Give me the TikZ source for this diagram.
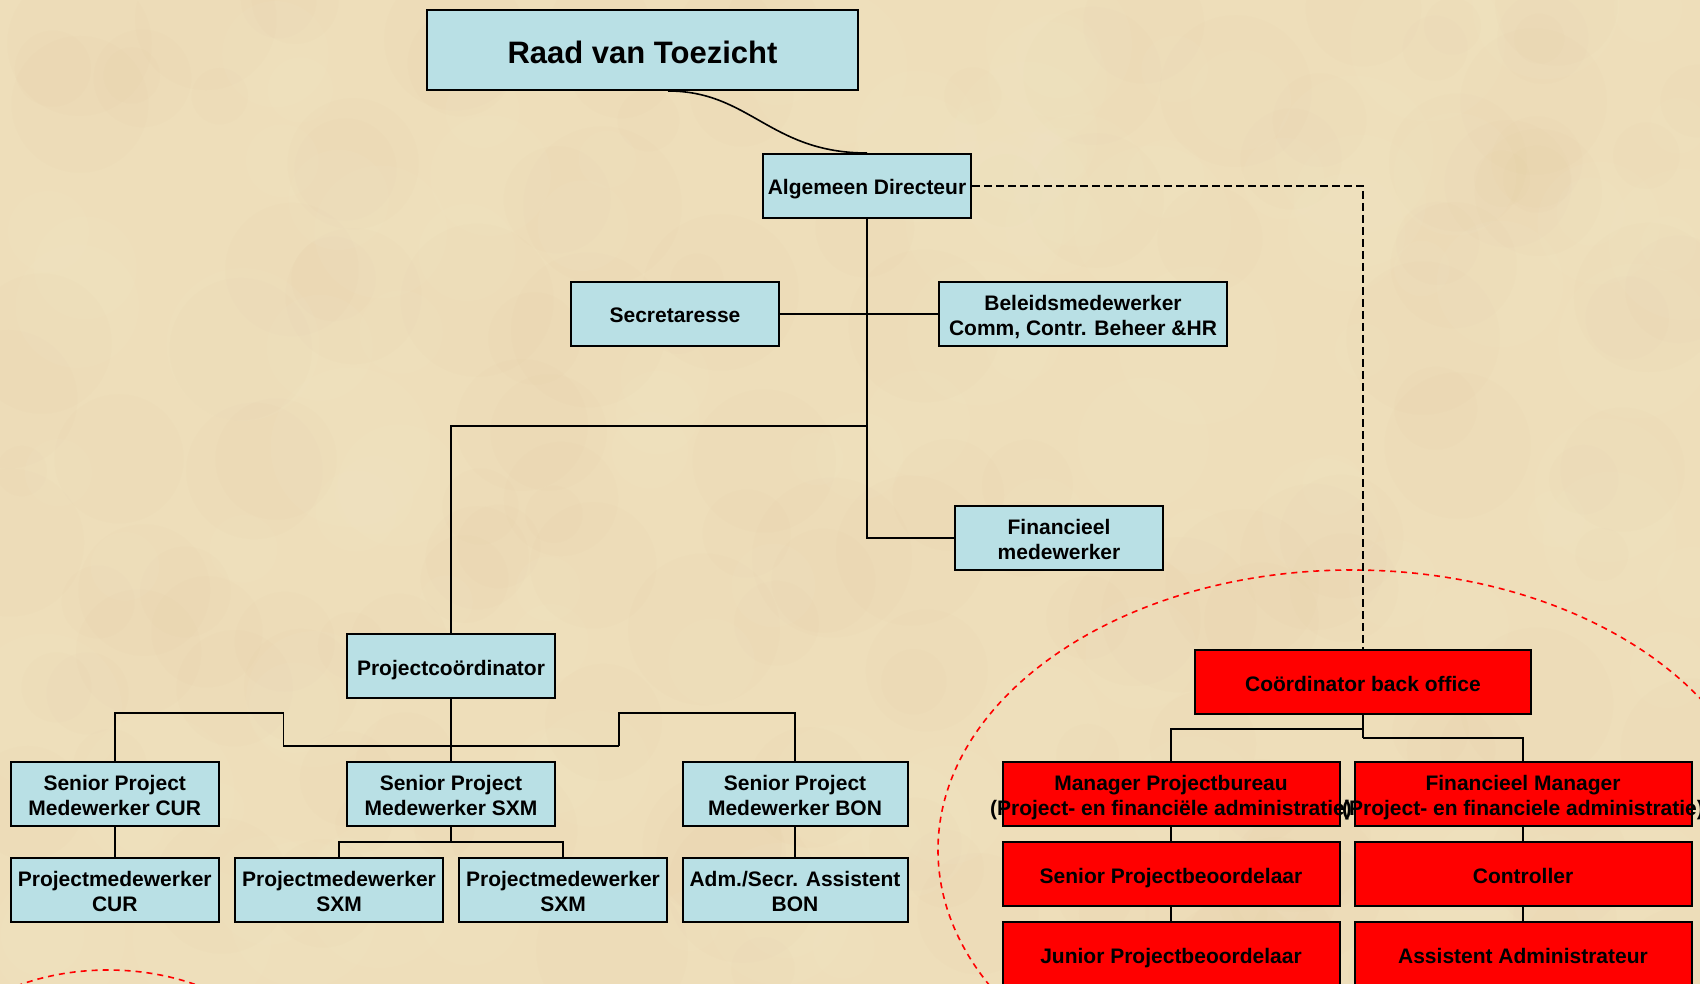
\documentclass[tikz,border=0pt]{standalone}
\usepackage{fontspec}
\setmainfont{Liberation Sans}
\definecolor{boxblue}{RGB}{185,224,229}
\definecolor{parch}{RGB}{238,222,186}
\definecolor{parchdark}{RGB}{214,188,140}
\definecolor{parchlight}{RGB}{248,238,212}
\begin{document}
\begin{tikzpicture}[x=1pt,y=-1pt,
  boxtext/.style={font=\bfseries\fontsize{21pt}{25pt}\selectfont, align=center},
  bluebox/.style={boxtext, draw=black, line width=2pt, fill=boxblue, inner sep=0pt, minimum height=64pt},
  redbox/.style={boxtext, draw=black, line width=2pt, fill=red, inner sep=0pt, minimum height=64pt, minimum width=337pt},
  oneline/.style={text height=18pt, text depth=0pt},
  twoline/.style={text height=43pt, text depth=0pt},
  conn/.style={line width=1.6pt, draw=black},
  dashconn/.style={line width=2pt, draw=black, dash pattern=on 8pt off 4pt},
  reddash/.style={line width=1.6pt, draw=red, dash pattern=on 6pt off 5pt}
]
\useasboundingbox (0,0) rectangle (1700,984);
\clip (0,0) rectangle (1700,984);
% parchment background
\fill[parch] (0,0) rectangle (1700,984);
\pgfmathsetseed{4242}
\foreach \i in {1,...,160} {
  \pgfmathsetmacro{\px}{rnd*1700}
  \pgfmathsetmacro{\py}{rnd*984}
  \pgfmathsetmacro{\pr}{25+rnd*55}
  \fill[parchdark, opacity=0.035] (\px,\py) circle[radius=\pr pt];
}
\foreach \i in {1,...,120} {
  \pgfmathsetmacro{\px}{rnd*1700}
  \pgfmathsetmacro{\py}{rnd*984}
  \pgfmathsetmacro{\pr}{25+rnd*55}
  \fill[parchlight, opacity=0.07] (\px,\py) circle[radius=\pr pt];
}

% red dashed ellipses
\draw[reddash] (1352,850) ellipse [x radius=414pt, y radius=280pt];
\draw[reddash] (108,1100) ellipse [x radius=190pt, y radius=130pt];

% nodes
\node[bluebox, minimum width=431pt, minimum height=80pt, font=\bfseries\fontsize{31pt}{36pt}\selectfont, text height=27pt, text depth=0pt] (raad) at (642.5,50) {Raad van Toezicht};
\node[bluebox, oneline, minimum width=208pt] (ad) at (867,186) {Algemeen Directeur};
\node[bluebox, oneline, minimum width=208pt] (secr) at (675,314) {Secretaresse};
\node[bluebox, twoline, minimum width=288pt] (beleid) at (1083,314) {Beleidsmedewerker\\Comm, Contr. Beheer \&HR};
\node[bluebox, twoline, minimum width=208pt] (finmw) at (1059,538) {Financieel\\medewerker};
\node[bluebox, oneline, minimum width=208pt] (pc) at (451,666) {Projectcoördinator};
\node[bluebox, twoline, minimum width=208pt] (spcur) at (114.75,794) {Senior Project\\Medewerker CUR};
\node[bluebox, twoline, minimum width=208pt] (spsxm) at (451,794) {Senior Project\\Medewerker SXM};
\node[bluebox, twoline, minimum width=225pt] (spbon) at (795,794) {Senior Project\\Medewerker BON};
\node[bluebox, twoline, minimum width=208pt] (pmcur) at (114.75,890) {Projectmedewerker\\CUR};
\node[bluebox, twoline, minimum width=208pt] (pmsxma) at (339,890) {Projectmedewerker\\SXM};
\node[bluebox, twoline, minimum width=208pt] (pmsxmb) at (563,890) {Projectmedewerker\\SXM};
\node[bluebox, twoline, minimum width=225pt] (adm) at (795,890) {Adm./Secr. Assistent\\BON};

\node[redbox, oneline, minimum width=336pt] (cbo) at (1363,682) {Coördinator back office};
\node[redbox, twoline] (mpb) at (1171,794) {\makebox[0pt]{Manager Projectbureau}\\\makebox[0pt]{(Project- en financiële administratie)}};
\node[redbox, twoline] (fm) at (1523,794) {\makebox[0pt]{Financieel Manager}\\\makebox[0pt]{(Project- en financiele administratie)}};
\node[redbox, oneline] (spb) at (1171,874) {Senior Projectbeoordelaar};
\node[redbox, oneline] (ctrl) at (1523,874) {Controller};
\node[redbox, oneline] (jpb) at (1171,954) {Junior Projectbeoordelaar};
\node[redbox, oneline] (aa) at (1523,954) {Assistent Administrateur};

% connectors
\draw[conn] ([xshift=25.5pt]raad.south) .. controls +(82,0) and +(-97,0) .. (ad.north);
\draw[dashconn] (ad.east) -- (ad.east -| cbo.north) -- (cbo.north);
\draw[conn] (ad.south) |- (finmw.west);
\draw[conn] (secr.east) -- (beleid.west);
\coordinate (pcjoin) at (867,426);
\draw[conn] (pcjoin) -| (pc.north);
\draw[conn] (pc.south) -- (spsxm.north);
\coordinate (jl) at (283.5,746);
\coordinate (jr) at (619,746);
\coordinate (jlt) at (283.5,713);
\coordinate (jrt) at (619,713);
\draw[conn] (jr) -- (jl) -- (jlt) -| (spcur.north);
\draw[conn] (jr) -- (jrt) -| (spbon.north);
\draw[conn] (spcur.south) -- (pmcur.north);
\draw[conn] (spbon.south) -- (adm.north);
\coordinate (sxmfork) at (451,842);
\draw[conn] (spsxm.south) -- (sxmfork);
\draw[conn] (pmsxma.north) |- (sxmfork) -| (pmsxmb.north);
\coordinate (cbl) at (1363,729);
\coordinate (cbr) at (1363,738);
\draw[conn] (cbo.south) -- (cbr);
\draw[conn] (cbl) -| (mpb.north);
\draw[conn] (cbr) -| (fm.north);
\draw[conn] (mpb.south) -- (spb.north);
\draw[conn] (spb.south) -- (jpb.north);
\draw[conn] (fm.south) -- (ctrl.north);
\draw[conn] (ctrl.south) -- (aa.north);
\end{tikzpicture}
\end{document}
